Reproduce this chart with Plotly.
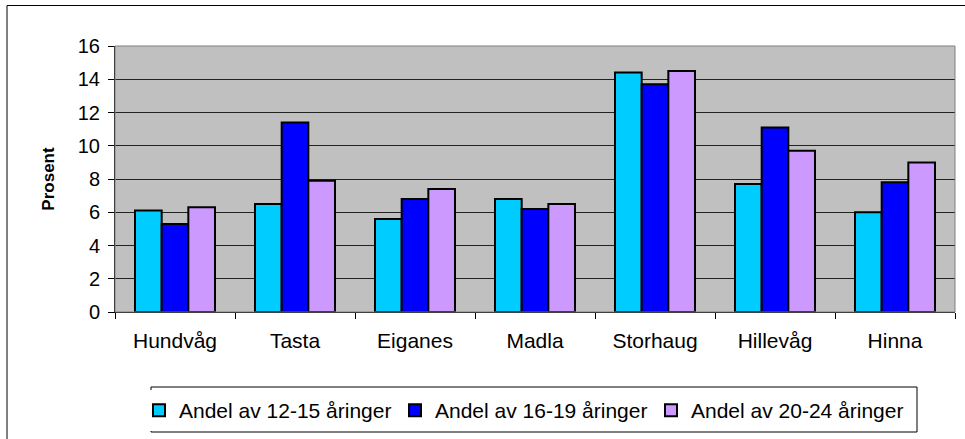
import plotly.graph_objects as go

# Data
bydeler = ['Hundvåg', 'Tasta', 'Eiganes', 'Madla', 'Storhaug', 'Hillevåg', 'Hinna']
andel_12_15 = [6.1, 6.5, 5.6, 6.8, 14.4, 7.7, 6.0]
andel_16_19 = [5.3, 11.4, 6.8, 6.2, 13.7, 11.1, 7.8]
andel_20_24 = [6.3, 7.9, 7.4, 6.5, 14.5, 9.7, 9.0]

series = [
    ('Andel av 12-15 åringer', andel_12_15, '#00CCFF'),
    ('Andel av 16-19 åringer', andel_16_19, '#0000FF'),
    ('Andel av 20-24 åringer', andel_20_24, '#CC99FF'),
]

W, H = 965, 439

fig = go.Figure()
for name, vals, col in series:
    fig.add_trace(go.Bar(x=bydeler, y=vals, name=name,
                         marker=dict(color=col, line=dict(color='black', width=2))))

fig.update_layout(
    width=W, height=H,
    margin=dict(l=115, r=10, t=46, b=127, autoexpand=False),
    paper_bgcolor='white',
    plot_bgcolor='#C0C0C0',
    barmode='group',
    bargap=1/3,
    bargroupgap=0,
    font=dict(family='Arial, Liberation Sans', color='black', size=20),
    showlegend=True,
    legend=dict(orientation='h', xref='container', yref='container',
                x=139/W, y=1 - 390/H, xanchor='left', yanchor='top',
                borderwidth=0, font=dict(size=21),
                itemwidth=30, tracegroupgap=0, entrywidth=211),
)

fig.update_xaxes(showline=True, linecolor='black', linewidth=1, automargin=False,
                 ticks='outside', tickson='boundaries', ticklen=6, tickcolor='black',
                 showgrid=False, tickfont=dict(size=21), ticklabelstandoff=10)
fig.update_yaxes(range=[0, 16], dtick=2, showline=True, linecolor='black', linewidth=1,
                 automargin=False,
                 ticks='outside', ticklen=6, tickcolor='black',
                 showgrid=True, gridcolor='#222222', gridwidth=1,
                 zeroline=False, tickfont=dict(size=20), ticklabelstandoff=4,
                 title=dict(text='<b>Prosent</b>', font=dict(size=17), standoff=18))

# plot area border (gray at top/right, like Excel)
fig.add_shape(type='rect', xref='paper', yref='paper', x0=0, x1=1, y0=0, y1=1,
              line=dict(color='#808080', width=1), layer='above')
# legend box
fig.add_shape(type='rect', xref='paper', yref='paper',
              x0=(151 - 115) / 840, x1=(917 - 115) / 840,
              y0=(312 - 432) / 266, y1=(312 - 387) / 266,
              line=dict(color='black', width=1), layer='above')
# outer chart border (right and bottom edges fall outside the picture)
fig.add_shape(type='rect', xref='paper', yref='paper',
              x0=(7 - 115) / 840, x1=(980 - 115) / 840,
              y0=(312 - 450) / 266, y1=(312 - 5.5) / 266,
              line=dict(color='black', width=1), layer='above')

fig.write_html('out.html', config={'displayModeBar': False},
               post_script="document.body.style.margin='0';")
